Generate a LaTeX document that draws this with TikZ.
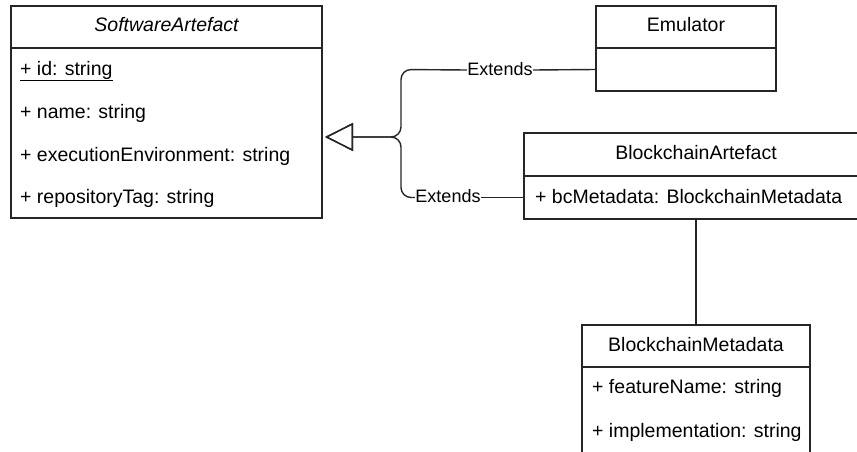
\documentclass[tikz,border=0pt]{standalone}
\usepackage{fontspec}
\setmainfont{Liberation Sans}
\usetikzlibrary{arrows.meta}
\begin{document}
\begin{tikzpicture}[x=1pt,y=-1pt,
  box/.style={draw=black!85,line width=1.4pt,rectangle,inner sep=0pt,outer sep=0pt},
  title/.style={font=\fontsize{19.5}{23}\selectfont,text height=14pt,text depth=4pt,inner sep=0pt},
  attr/.style={title,anchor=west},
  lbl/.style={font=\fontsize{18}{21}\selectfont,fill=white,inner sep=0.5pt,text height=13pt,text depth=3pt},
  conn/.style={draw=black!85,line width=1.4pt,rounded corners=10pt},
  gen/.style={conn,-{Triangle[open,length=28pt,width=28pt,line width=1.4pt]},shorten >=3pt}]
\useasboundingbox (0,0) rectangle (857,452);
\clip (0,0) rectangle (857,452);

% SoftwareArtefact
\node[box,minimum width=311,minimum height=42] (sah) at (166.5,27) {};
\node[box,minimum width=311,minimum height=170] (sab) at (166.5,133) {};
\node[title] (sat) at (sah) {\itshape SoftwareArtefact};
\node[attr] (sa1) at (20,70) {\underline{+ id: string}};
\node[attr] (sa2) at (20,113) {+ name: string};
\node[attr] (sa3) at (20,156) {+ executionEnvironment: string};
\node[attr] (sa4) at (20,198) {+ repositoryTag: string};

% Emulator
\node[box,minimum width=180,minimum height=42] (emh) at (686,27) {};
\node[box,minimum width=180,minimum height=43] (emb) at (686,69.5) {};
\node[title] (emt) at (emh) {Emulator};

% BlockchainArtefact
\node[box,minimum width=344,minimum height=43] (bah) at (696,154.5) {};
\node[box,minimum width=344,minimum height=43] (bab) at (696,197.5) {};
\node[title] (bat) at (bah) {BlockchainArtefact};
\node[attr] (ba1) at (535,198) {+ bcMetadata: BlockchainMetadata};

% BlockchainMetadata
\node[box,minimum width=228,minimum height=42] (bmh) at (696,346) {};
\node[box,minimum width=228,minimum height=110] (bmb) at (696,422) {};
\node[title] (bmt) at (bmh) {BlockchainMetadata};
\node[attr] (bm1) at (592,388) {+ featureName: string};
\node[attr] (bm2) at (592,432) {+ implementation: string};

% generalisations: both branches meet at the triangle on the right side of SoftwareArtefact
\coordinate (jrow) at (0,137);
\coordinate (gtip) at (sab.east |- jrow);
\node[lbl] (l1) at (500,70) {Extends};
\node[lbl] (l2) at (448,197.5) {Extends};
\draw[conn] (emb.west) -- (l1.east);
\draw[gen] (l1.west) -- (401,69.5) -- (401,137) -- (gtip);
\draw[conn] (bab.west) -- (l2.east);
\draw[gen] (l2.west) -- (401,197.5) -- (401,137) -- (gtip);

% association
\draw[conn] (bab.south) -- (bmh.north);
\end{tikzpicture}
\end{document}
